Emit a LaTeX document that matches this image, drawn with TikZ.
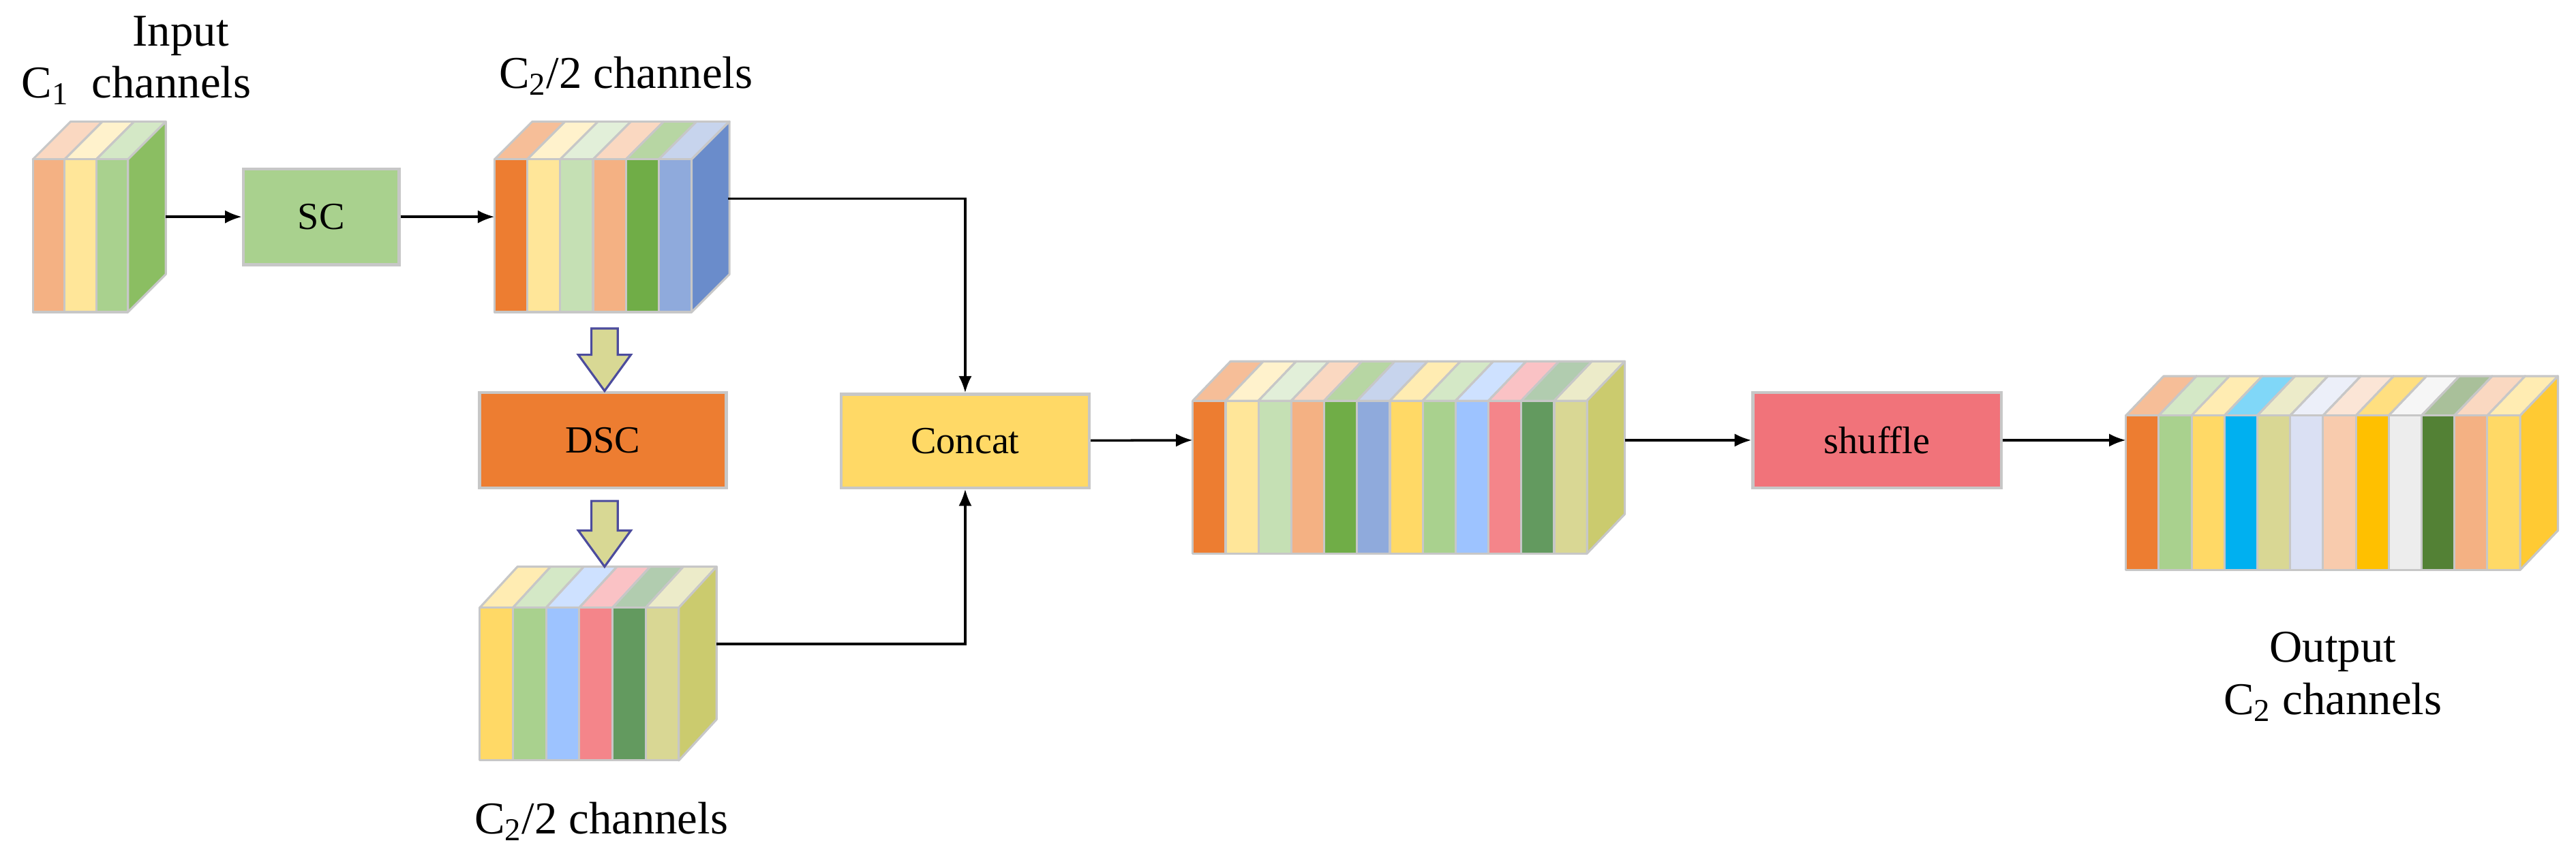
\documentclass[tikz,border=0pt]{standalone}
\usepackage{fontspec}
\setmainfont{Liberation Serif}
\usetikzlibrary{arrows.meta}
\begin{document}
\begin{tikzpicture}[x=0.0241cm,y=-0.0241cm,
  slab/.style={draw=black!22,line width=0.9pt,line join=round},
  box/.style={draw=black!22,line width=1.2pt,inner sep=0pt,font=\fontsize{16}{19}\selectfont},
  arr/.style={-{Latex[length=7pt,width=5.5pt]},line width=1pt},
  lbl/.style={font=\fontsize{19}{22}\selectfont,align=center},
  blk/.style={draw=blue!45!black!70,line width=0.9pt,fill=dscar}]
\definecolor{cA}{HTML}{F4B183}\definecolor{cB}{HTML}{FFE699}\definecolor{cC}{HTML}{A9D18E}
\definecolor{cD}{HTML}{ED7D31}\definecolor{cE}{HTML}{C5E0B4}\definecolor{cF}{HTML}{70AD47}
\definecolor{cG}{HTML}{8FAADC}\definecolor{cH}{HTML}{FFD966}\definecolor{cI}{HTML}{9DC3FF}
\definecolor{cJ}{HTML}{F4858A}\definecolor{cK}{HTML}{639A5F}\definecolor{cL}{HTML}{D9D794}
\definecolor{cM}{HTML}{00B0F0}\definecolor{cN}{HTML}{DAE0F3}\definecolor{cO}{HTML}{F8CBAD}
\definecolor{cP}{HTML}{FFC000}\definecolor{cQ}{HTML}{EDEDED}\definecolor{cR}{HTML}{538135}
\definecolor{sA}{HTML}{8BBE62}\definecolor{sB}{HTML}{6A8CCB}\definecolor{sC}{HTML}{CBCB6E}
\definecolor{sD}{HTML}{FFCA33}\definecolor{dscar}{HTML}{D8D894}
\definecolor{scf}{HTML}{A9D18E}\definecolor{dscf}{HTML}{ED7D31}\definecolor{ccf}{HTML}{FFD966}
\definecolor{shf}{HTML}{F1737A}
\newcommand\slabstack[7]{%
  \foreach \c [count=\i from 0] in {#7}{%
    \pgfmathsetmacro\xa{#1+\i*#5}%
    \draw[slab,fill=\c!50!white] (\xa,#2+#3) -- (\xa+23,#2) -- (\xa+23+#5,#2) -- (\xa+#5,#2+#3) -- cycle;
    \draw[slab,fill=\c] (\xa,#2+#3) rectangle (\xa+#5,#4);
    \xdef\lastx{\xa}}%
  \draw[slab,fill=#6] (\lastx+#5,#2+#3) -- (\lastx+#5+23,#2) -- (\lastx+#5+23,#4-#3) -- (\lastx+#5,#4) -- cycle;}
\useasboundingbox (0,0) rectangle (1568,523.6);
% stacks
\slabstack{20}{74}{23}{190}{19.3}{sA}{cA,cB,cC}
\slabstack{301}{74}{23}{190}{20}{sB}{cD,cB,cE,cA,cF,cG}
\slabstack{292}{345}{25}{463}{20.2}{sC}{cH,cC,cI,cJ,cK,cL}
\slabstack{726}{220}{24}{337}{20}{sC}{cD,cB,cE,cA,cF,cG,cH,cC,cI,cJ,cK,cL}
\slabstack{1294}{229}{24}{347}{20}{sD}{cD,cC,cH,cM,cL,cN,cO,cP,cQ,cR,cA,cH}
% labels
\node[lbl] (tin) at (110,22) {Input};
\node[lbl,anchor=west] (tc1) at (8,52) {C\textsubscript{1}\enspace channels};
\node[lbl] (tc2a) at (381,46) {C\textsubscript{2}/2 channels};
\node[lbl] (tc2b) at (366,500) {C\textsubscript{2}/2 channels};
\node[lbl] (tout) at (1420,412) {Output\\C\textsubscript{2} channels};
% boxes
\node[box,minimum width=65pt,minimum height=40pt,fill=scf] (sc) at (195.5,132) {SC};
\node[box,minimum width=103pt,minimum height=40pt,fill=dscf] (dsc) at (367,268) {DSC};
\node[box,minimum width=103.6pt,minimum height=39pt,fill=ccf] (cc) at (587.5,268.5) {Concat};
\node[box,minimum width=103.6pt,minimum height=40pt,fill=shf] (sh) at (1142.5,268) {shuffle};
% block arrows
\draw[blk] (360,200) -- (376,200) -- (376,216) -- (384,216) -- (368,238) -- (352,216) -- (360,216) -- cycle;
\draw[blk] (360,305) -- (376,305) -- (376,323) -- (384,323) -- (368,345) -- (352,323) -- (360,323) -- cycle;
% connectors
\coordinate (s1o) at (101,132); \coordinate (s2i) at (301,132);
\coordinate (s2o) at (443,121); \coordinate (s3o) at (436,392);
\coordinate (s4i) at (726,268); \coordinate (s4o) at (989,268);
\coordinate (s5i) at (1294,268);
\draw[arr] (s1o) -- (sc);
\draw[arr] (sc) -- (s2i);
\draw[arr] (s2o) -| (cc.north);
\draw[arr] (s3o) -| (cc.south);
\draw[arr] (cc) -- (s4i);
\draw[arr] (s4o) -- (sh);
\draw[arr] (sh) -- (s5i);
\end{tikzpicture}
\end{document}
